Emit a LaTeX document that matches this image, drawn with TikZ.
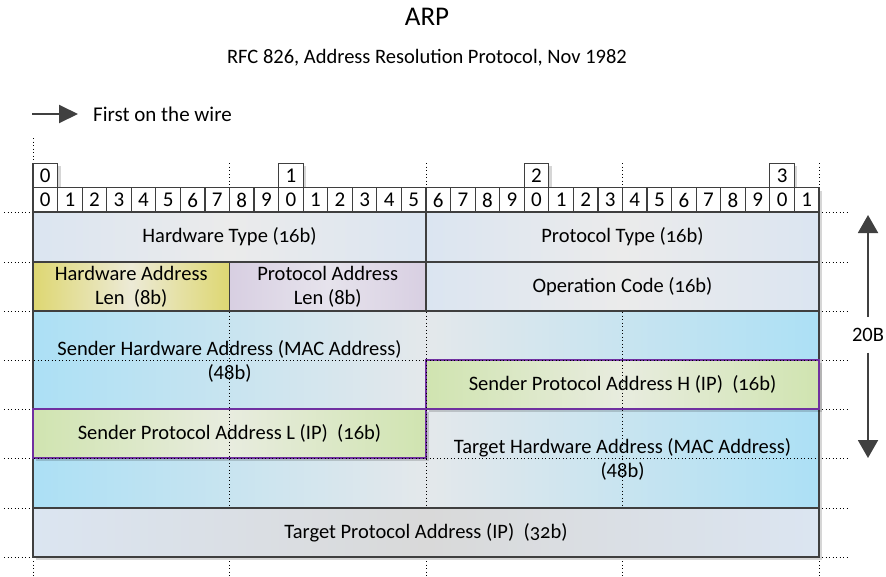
\documentclass[tikz,border=0pt]{standalone}
\usepackage{fontspec}
\setmainfont{Carlito}
\newfontfamily\oldnum[Numbers=OldStyle]{Carlito}
\usetikzlibrary{arrows.meta,shadows}
\definecolor{bord}{HTML}{3F3F3F}
\definecolor{arrc}{HTML}{404040}
\definecolor{purp}{HTML}{7030A0}
\definecolor{bgEdge}{HTML}{DBE5F1}
\definecolor{bgMid}{HTML}{EBEBEB}
\definecolor{tpMid}{HTML}{D9D9D9}
\definecolor{yeEdge}{HTML}{DED772}
\definecolor{yeMid}{HTML}{ECEAD6}
\definecolor{laEdge}{HTML}{D8CFE2}
\definecolor{laMid}{HTML}{E6E3EC}
\definecolor{blEdge}{HTML}{ACE0F5}
\definecolor{blMid}{HTML}{E4E8EB}
\definecolor{grEdge}{HTML}{D0E4B0}
\definecolor{grMid}{HTML}{E8ECDF}
\newcommand{\fldfont}{\fontsize{20.5}{24}\selectfont}
\begin{document}
\begin{tikzpicture}[x=1pt,y=-1pt,
  shad/.style={drop shadow={shadow xshift=3pt,shadow yshift=-3pt,opacity=0.16,fill=black}},
  bitcell/.style={draw=bord, line width=1.2pt, fill=white, shad, minimum width=24.5625pt,
    minimum height=24.5pt, inner sep=0pt, font=\fontsize{21}{21}\selectfont},
  fieldbox/.style={draw=bord, line width=1.6pt, shad, inner sep=0pt},
  purpbox/.style={draw=purp, line width=1.6pt, shad, inner sep=0pt},
  bgshade/.style={left color=bgEdge, right color=bgEdge, middle color=bgMid},
  tpshade/.style={left color=bgEdge, right color=bgEdge, middle color=tpMid},
  yeshade/.style={left color=yeEdge, right color=yeEdge, middle color=yeMid},
  lashade/.style={left color=laEdge, right color=laEdge, middle color=laMid},
  blshade/.style={left color=blEdge, right color=blEdge, middle color=blMid},
  grshade/.style={left color=grEdge, right color=grEdge, middle color=grMid},
  fldtext/.style={font=\fldfont, align=center, inner sep=0pt},
  dotline/.style={black, line width=0.9pt, dash pattern=on 0.9pt off 2.6pt},
  arrowln/.style={draw=arrc, line width=2pt}
]
\useasboundingbox (0,0) rectangle (886,576);

% titles
\node[anchor=base, font=\fontsize{27}{30}\selectfont] (title) at (427,25) {ARP};
\node[anchor=base, font=\fontsize{20.5}{24}\selectfont] (subtitle) at (427,63) {RFC 826, Address Resolution Protocol, Nov 1982};

% first on the wire
\coordinate (fwa) at (32,114);
\coordinate (fwb) at (78,114);
\draw[arrowln, -{Triangle[length=19pt,width=18pt]}, fill=arrc] (fwa) -- (fwb);
\node[anchor=base west, font=\fontsize{21}{24}\selectfont, inner sep=0pt] (fwt) at (93,121) {First on the wire};

% dotted markers above bit row
\draw[dotline] (33,138) -- (33,161);
\foreach \xx in {229.5,426,622.5,819} \draw[dotline] (\xx,163) -- (\xx,187);

% byte boxes
\foreach \j/\c in {0/0,1/10,2/20,3/30}
  \node[bitcell] (byte\j) at ({33+(\c+0.5)*24.5625},175.5) {\j};

% bit cells
\foreach \i in {0,...,31}{
  \pgfmathtruncatemacro{\d}{mod(\i,10)}
  \node[bitcell] (bit\i) at ({33+(\i+0.5)*24.5625},200) {\d};
}

% row 1
\node[fieldbox, bgshade, minimum width=393pt, minimum height=50pt] (ht) at (229.5,237) {};
\node[fieldbox, bgshade, minimum width=393pt, minimum height=50pt] (pt) at (622.5,237) {};
% row 2
\node[fieldbox, yeshade, minimum width=196.5pt, minimum height=49pt] (hal) at (131.25,286.5) {};
\node[fieldbox, lashade, minimum width=196.5pt, minimum height=49pt] (pal) at (327.75,286.5) {};
\node[fieldbox, bgshade, minimum width=393pt, minimum height=49pt] (opc) at (622.5,286.5) {};
% rows 3-5
\node[fieldbox, blshade, minimum width=786pt, minimum height=98pt] (sha) at (426,360) {};
\node[fieldbox, blshade, minimum width=786pt, minimum height=99pt] (tha) at (426,458.5) {};
\node[purpbox, grshade, minimum width=393pt, minimum height=49pt] (spah) at (622.5,384.5) {};
\node[purpbox, grshade, minimum width=393pt, minimum height=49pt] (spal) at (229.5,433.5) {};
% row 6
\node[fieldbox, tpshade, minimum width=786pt, minimum height=49pt] (tpa) at (426,532.5) {};

% field texts
\node[fldtext] (htt) at (ht) {Hardware Type ({\oldnum 16b})};
\node[fldtext] (ptt) at (pt) {Protocol Type ({\oldnum 16b})};
\node[fldtext] (halt) at (hal) {Hardware Address\\Len\ \ (8b)};
\node[fldtext] (palt) at (pal) {Protocol Address\\Len (8b)};
\node[fldtext] (opct) at (opc) {Operation Code ({\oldnum 16b})};
\node[fldtext] (shat) at (229.5,361) {Sender Hardware Address (MAC Address)\\(48b)};
\node[fldtext] (spaht) at (spah) {Sender Protocol Address H (IP)\ \ ({\oldnum 16b})};
\node[fldtext] (spalt) at (spal) {Sender Protocol Address L (IP)\ \ ({\oldnum 16b})};
\node[fldtext] (that) at (622.5,459) {Target Hardware Address (MAC Address)\\(48b)};
\node[fldtext] (tpat) at (tpa) {Target Protocol Address (IP)\ \ ({\oldnum 32b})};

% dotted guides
\foreach \yy in {212,262,311,360,409,458,508,557}{
  \draw[dotline] (4,\yy) -- (30,\yy);
  \draw[dotline] (822,\yy) -- (848,\yy);
}
\foreach \xx in {229.5,426,622.5} \draw[dotline] (\xx,312) -- (\xx,507);
\draw[dotline] (34,360) -- (818,360);
\draw[dotline] (34,458) -- (818,458);
\foreach \xx in {33,229.5,426,622.5,819} \draw[dotline] (\xx,561) -- (\xx,576);

% 20B arrow
\node[font=\fontsize{20.5}{24}\selectfont, inner xsep=0pt, inner ysep=11pt] (lbl20) at (868,335) {20B};
\coordinate (t20) at (868,215);
\coordinate (b20) at (868,458);
\draw[arrowln, -{Triangle[length=18pt,width=20pt]}, fill=arrc] (lbl20.north) -- (t20);
\draw[arrowln, -{Triangle[length=18pt,width=20pt]}, fill=arrc] (lbl20.south) -- (b20);
\end{tikzpicture}
\end{document}
